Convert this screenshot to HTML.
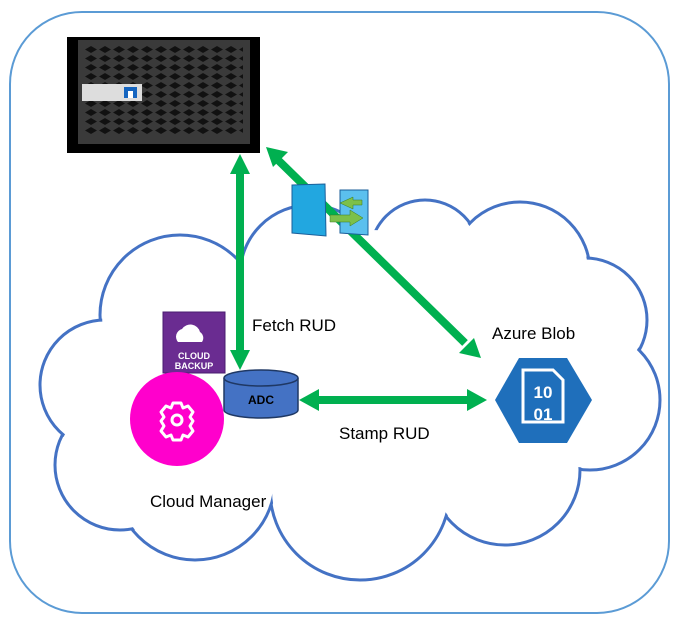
<html><body style="margin:0;background:#fff">
<svg width="680" height="621" viewBox="0 0 680 621" xmlns="http://www.w3.org/2000/svg" font-family="Liberation Sans, sans-serif">
<rect x="10" y="12" width="659" height="601" rx="72" fill="#fff" stroke="#5b9bd5" stroke-width="2"/>
<g fill="#fff" stroke="#4472c4" stroke-width="3">
<circle cx="180" cy="315" r="80"/><circle cx="310" cy="275" r="70"/><circle cx="425" cy="255" r="55"/>
<circle cx="520" cy="272" r="70"/><circle cx="585" cy="320" r="62"/><circle cx="590" cy="400" r="70"/>
<circle cx="505" cy="470" r="75"/><circle cx="360" cy="490" r="90"/><circle cx="195" cy="480" r="80"/>
<circle cx="120" cy="465" r="65"/><circle cx="105" cy="385" r="65"/>
</g>
<g fill="#fff">
<circle cx="180" cy="315" r="78"/><circle cx="310" cy="275" r="68"/><circle cx="425" cy="255" r="53"/>
<circle cx="520" cy="272" r="68"/><circle cx="585" cy="320" r="60"/><circle cx="590" cy="400" r="68"/>
<circle cx="505" cy="470" r="73"/><circle cx="360" cy="490" r="88"/><circle cx="195" cy="480" r="78"/>
<circle cx="120" cy="465" r="63"/><circle cx="105" cy="385" r="63"/><circle cx="370" cy="380" r="150"/>
<circle cx="200" cy="400" r="70"/><circle cx="530" cy="360" r="50"/><circle cx="150" cy="420" r="70"/>
</g>
<defs><pattern id="p" width="14" height="9" patternUnits="userSpaceOnUse"><path d="M1 4.5 L7 1 L13 4.5 L7 8z" fill="#111"/></pattern></defs>
<rect x="67" y="37" width="193" height="116" fill="#000"/>
<rect x="78" y="40" width="172" height="104" fill="#3a3a3a"/>
<rect x="85" y="46" width="158" height="90" fill="url(#p)"/>
<rect x="82" y="84" width="60" height="17" fill="#ddd"/>
<rect x="124" y="87" width="13" height="11" fill="#1565c0"/><rect x="128" y="91" width="5" height="7" fill="#fff"/>
<g stroke="#00b050" stroke-width="8" fill="none">
<line x1="240" y1="172" x2="240" y2="355"/>
<line x1="278" y1="160" x2="465" y2="343"/>
<line x1="316" y1="400" x2="470" y2="400"/>
</g>
<g fill="#00b050">
<polygon points="240,154 230,174 250,174"/><polygon points="240,370 230,350 250,350"/>
<polygon points="266,147 288,152 273,167"/><polygon points="481,358 459,353 474,338"/>
<polygon points="299,400 319,389 319,411"/><polygon points="487,400 467,389 467,411"/>
</g>
<polygon points="292,185 325,184 326,236 292,233" fill="#22a7e0" stroke="#1b5f9a"/>
<polygon points="340,190 368,190 368,235 340,233" fill="#5bc0ee" stroke="#1b5f9a"/>
<polygon points="353,197 340,203 353,209 353,205 362,205 362,200 353,200" fill="#7cc04a" stroke="#3a7a20" stroke-width="0.5"/>
<polygon points="350,210 350,215 330,215 330,222 350,222 350,226 363,218" fill="#7cc04a" stroke="#3a7a20" stroke-width="0.5"/>
<rect x="163" y="312" width="62" height="61" fill="#6a2c91" stroke="#4a1c70"/>
<path d="M178 342 a8 8 0 0 1 4 -13 a10 10 0 0 1 18 3 a7 7 0 0 1 2 10z" fill="#fff"/>
<text x="194" y="359" font-size="9" fill="#fff" text-anchor="middle" font-weight="bold">CLOUD</text>
<text x="194" y="369" font-size="9" fill="#fff" text-anchor="middle" font-weight="bold">BACKUP</text>
<circle cx="177" cy="419" r="47" fill="#ff00cc"/>
<g transform="translate(177,420)" fill="none" stroke="#fff" stroke-width="3" stroke-linejoin="round">
<path d="M-4,-17 h8 l2,5 l5,-2 l5,6 l-3,5 l3,4 l-3,5 l3,5 l-5,6 l-5,-2 l-2,5 h-8 l-2,-5 l-5,2 l-5,-6 l3,-5 l-3,-5 l3,-4 l-3,-5 l5,-6 l5,2z"/>
<circle cx="0" cy="0" r="5"/>
</g>
<path d="M224 378 v32 a37 8 0 0 0 74 0 v-32" fill="#4472c4" stroke="#1f3864" stroke-width="1.5"/>
<ellipse cx="261" cy="378" rx="37" ry="8" fill="#4472c4" stroke="#1f3864" stroke-width="1.5"/>
<text x="261" y="404" font-size="12" font-weight="bold" text-anchor="middle">ADC</text>
<polygon points="495,400 519,358 567,358 592,400 567,443 519,443" fill="#1f6fbb"/>
<path d="M523 370 h30 l10 10 v42 h-40z" fill="none" stroke="#fff" stroke-width="3"/>
<text x="543" y="398" font-size="17" font-weight="bold" fill="#fff" text-anchor="middle">10</text>
<text x="543" y="420" font-size="17" font-weight="bold" fill="#fff" text-anchor="middle">01</text>
<g font-size="17" fill="#000">
<text x="252" y="331">Fetch RUD</text>
<text x="492" y="339">Azure Blob</text>
<text x="339" y="439">Stamp RUD</text>
<text x="150" y="507">Cloud Manager</text>
</g>
</svg>
</body></html>
